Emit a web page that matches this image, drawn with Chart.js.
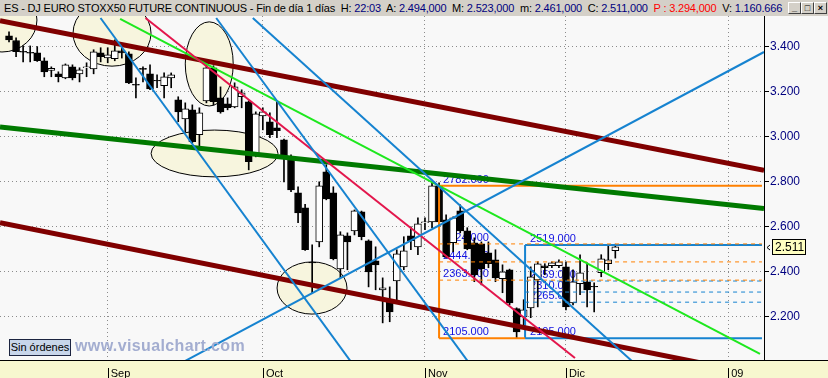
<!DOCTYPE html>
<html>
<head>
<meta charset="utf-8">
<script src="https://cdn.jsdelivr.net/npm/chart.js@4.4.1/dist/chart.umd.min.js"></script>
<style>
html, body { margin: 0; padding: 0; background: #f8f8f8; }
#wrap { position: relative; width: 828px; height: 378px; overflow: hidden; font-family: "Liberation Sans", Arial, sans-serif; }
#c { position: absolute; left: 0; top: 0; }
#hdr { position: absolute; left: 0; top: 0; width: 828px; height: 16px; background: #d4d0c8; font-size: 11px; line-height: 16px; white-space: nowrap; color: #000; }
#ht { position: absolute; left: 4px; top: 0; }
.v { color: #000080; }
.r { color: #ff0000; }
.wb { position: absolute; top: 2px; width: 11px; height: 10px; background: #d4d0c8; border: 1px solid; border-color: #fff #404040 #404040 #fff; font-size: 9px; line-height: 10px; text-align: center; font-weight: bold; }
#ord { position: absolute; left: 9px; top: 339px; width: 60px; height: 15px; border: 1px solid #1c2440; background: #c8d6ea; font-size: 11px; line-height: 15px; text-align: center; color: #000; }
#wm { position: absolute; left: 75px; top: 337px; font-weight: bold; font-size: 16px; color: #a3add0; white-space: nowrap; }
</style>
</head>
<body>
<div id="wrap">
  <canvas id="c" width="828" height="378"></canvas>
  <div id="hdr">
    <span id="ht">ES - DJ EURO STOXX50 FUTURE CONTINUOUS - Fin de día 1 días&nbsp; H: <span class="v">22:03</span>&nbsp; A: <span class="v">2.494,000</span>&nbsp; M: <span class="v">2.523,000</span>&nbsp; m: <span class="v">2.461,000</span>&nbsp; C: <span class="v">2.511,000</span>&nbsp; <span class="r">P : 3.294,000</span>&nbsp; V: <span class="v">1.160.666</span></span>
    <div class="wb" style="left:788px">_</div>
    <div class="wb" style="left:801px">□</div>
    <div class="wb" style="left:814px">×</div>
  </div>
  <div id="ord">Sin órdenes</div>
  <div id="wm">www.visualchart.com</div>
</div>
<script>
// daily candles, x = trading day counted from 1 Sep (0)
const firstDay = -14;
const openP = [3449,3428,3380,3375,3373,3338,3295,3280,3262,3311,3280,3307,3302,3373,
  3351,3347,3382,3369,3233,3304,3280,3251,3227,3262,
  3164,3080,3120,3009,3160,3307,3173,3147,3133,3178,
  3156,2920,3093,3067,3040,2987,2911,2751,2684,2442,
  2533,2844,2751,2413,2560,2582,2667,2538,2449,2320,
  2267,2360,2422,2560,2511,2618,2622,2782,2631,2529,
  2671,2582,2529,2524,2484,2453,2369,2409,2236,2200,
  2240,2364,2427,2427,2427,2422,2262,2347,2356,2335,
  2396,2436,2494];
const highP = [3467,3440,3404,3404,3401,3351,3311,3289,3324,3320,3307,3329,3387,3396,
  3396,3431,3395,3378,3262,3311,3320,3276,3284,3284,
  3178,3151,3142,3129,3320,3316,3222,3173,3240,3209,
  3160,3111,3129,3107,3156,2990,2920,2778,2700,2520,
  2800,2876,2778,2578,2573,2675,2670,2542,2511,2373,
  2333,2498,2556,2600,2640,2640,2796,2796,2653,2644,
  2698,2596,2551,2533,2533,2498,2431,2412,2240,2276,
  2422,2445,2436,2444,2453,2444,2409,2476,2440,2351,
  2476,2520,2523];
const lowP = [3422,3356,3333,3333,3335,3267,3267,3244,3258,3253,3244,3267,3280,3333,
  3329,3338,3350,3236,3173,3244,3209,3218,3173,3218,
  3067,3022,2973,2951,3151,3142,3105,3120,3129,3129,
  2853,2911,3031,2996,2996,2800,2756,2618,2495,2307,
  2511,2720,2453,2373,2409,2564,2542,2333,2320,2173,
  2178,2276,2409,2498,2476,2587,2596,2609,2462,2489,
  2573,2498,2356,2342,2418,2356,2307,2253,2105,2164,
  2196,2244,2387,2418,2418,2231,2253,2298,2244,2222,
  2378,2409,2461];
const closeP = [3431,3379,3376,3372,3339,3289,3304,3267,3320,3262,3298,3311,3378,3356,
  3364,3382,3373,3240,3229,3300,3213,3249,3267,3276,
  3111,3124,2978,3107,3307,3156,3111,3129,3222,3196,
  2889,3102,3111,3009,3027,2907,2764,2662,2498,2440,
  2782,2724,2458,2564,2533,2671,2556,2400,2431,2329,
  2222,2480,2493,2538,2613,2622,2782,2622,2467,2640,
  2582,2502,2387,2413,2436,2373,2400,2262,2133,2231,
  2378,2436,2418,2440,2444,2244,2356,2396,2320,2333,
  2458,2453,2511];
const lastClose = 2511;

const monthTicks = [0, 22, 45, 65, 88];
const monthLabels = ['Sep', 'Oct', 'Nov', 'Dic', '09'];
const priceTicks = [2200, 2400, 2600, 2800, 3000, 3200, 3400];

// trend lines: [day1, price1, day2, price2]
const maroonLines = [[-15.28, 3516, 93.09, 2851], [-15.28, 2618, 86.86, 1978]];
const greenLine = [-15.28, 3044, 93.09, 2681];
const limeLine = [1.76, 3524, 92.52, 2035];
const redLine = [5.36, 3528, 66.28, 2017];
const blueLines = [[-1.02, 3528, 34.6, 1996], [15.39, 3528, 51.25, 1995],
  [20.58, 3528, 74.65, 1995], [10.4, 1994, 93.09, 3377]];

// retracement boxes
const orangeLevels = [2782, 2524, 2444, 2363, 2105];
const blueLevels = [2519, 2359, 2310, 2265, 2105];
const orangeFrom = 47.0, blueFrom = 59.2, boxTo = 92.8;

// ellipses: centre day, centre price, half width (days), half height (points)
const ellDay = [-15.0, 0.61, 14.4, 15.15, 28.98];
const ellPrice = [3519, 3461, 3324, 2926, 2328];
const ellRx = [4.96, 5.53, 3.4, 9.0, 4.96];
const ellRy = [142, 147, 187, 104, 116];

// fit header and watermark text widths
const ht = document.getElementById('ht');
ht.style.letterSpacing = ((778 - ht.getBoundingClientRect().width) / ht.textContent.length) + 'px';
const wm = document.getElementById('wm');
wm.style.letterSpacing = ((170 - wm.getBoundingClientRect().width) / wm.textContent.length) + 'px';

Chart.defaults.font.family = '"Liberation Sans", Arial, sans-serif';

function seg(x1, y1, x2, y2, color, width, dash) {
  return {
    type: 'line', data: [{x: x1, y: y1}, {x: x2, y: y2}],
    borderColor: color, borderWidth: width, borderDash: dash || [],
    pointRadius: 0, tension: 0, order: 0, borderCapStyle: 'butt'
  };
}

const datasets = [];
blueLines.forEach(l => datasets.push(seg(l[0], l[1], l[2], l[3], '#1683d0', 2)));
datasets.push(seg(redLine[0], redLine[1], redLine[2], redLine[3], '#e3164c', 2));
datasets.push(seg(limeLine[0], limeLine[1], limeLine[2], limeLine[3], '#1ee81e', 2));
datasets.push(seg(greenLine[0], greenLine[1], greenLine[2], greenLine[3], '#007a00', 5));
maroonLines.forEach(l => datasets.push(seg(l[0], l[1], l[2], l[3], '#800000', 5)));

// orange box
const oTop = orangeLevels[0], oBot = orangeLevels[orangeLevels.length - 1];
datasets.push(seg(orangeFrom, oTop, boxTo, oTop, '#ff8000', 2));
datasets.push(seg(orangeFrom, oTop, orangeFrom, oBot, '#ff8000', 2));
datasets.push(seg(orangeFrom, oBot, blueFrom, oBot, '#ff8000', 2));
orangeLevels.slice(1, -1).forEach(v => datasets.push(seg(orangeFrom, v, boxTo, v, '#ff8000', 1, [4, 4])));
// blue box
const bTop = blueLevels[0], bBot = blueLevels[blueLevels.length - 1];
datasets.push(seg(blueFrom, bTop, boxTo, bTop, '#1683d0', 2));
datasets.push(seg(blueFrom, bTop, blueFrom, bBot, '#1683d0', 2));
datasets.push(seg(blueFrom, bBot, boxTo, bBot, '#1683d0', 2));
blueLevels.slice(1, -1).forEach(v => datasets.push(seg(blueFrom, v, boxTo, v, '#1683d0', 1, [4, 4])));

// candles
datasets.push({
  type: 'bar', grouped: false, order: 1, barThickness: 7,
  data: openP.map((o, k) => ({x: firstDay + k, y: [o, closeP[k]]})),
  backgroundColor: openP.map((o, k) => closeP[k] >= o ? '#ffffff' : '#000000'),
  borderColor: '#000', borderWidth: 1, borderSkipped: false
});
datasets.push({
  type: 'bar', grouped: false, order: 2, barThickness: 1,
  data: lowP.map((l, k) => ({x: firstDay + k, y: [l, highP[k]]})),
  backgroundColor: '#000', borderWidth: 0
});

const deco = {
  id: 'deco',
  beforeDraw(c) {
    const g = c.ctx;
    g.save();
    g.fillStyle = '#f8f8f8';
    g.fillRect(0, 0, 828, 378);
    g.fillStyle = '#f7f7cf';
    g.fillRect(0, 360, 828, 18);
    g.restore();
  },
  beforeDatasetsDraw(c) {
    const g = c.ctx, xs = c.scales.x, ys = c.scales.y, a = c.chartArea;
    g.save();
    g.beginPath();
    g.rect(a.left, a.top, a.right - a.left, a.bottom - a.top);
    g.clip();
    // ellipses
    ellDay.forEach((d, k) => {
      const cx = xs.getPixelForValue(d), cy = ys.getPixelForValue(ellPrice[k]);
      const rx = Math.abs(xs.getPixelForValue(d + ellRx[k]) - cx);
      const ry = Math.abs(ys.getPixelForValue(ellPrice[k] + ellRy[k]) - cy);
      g.beginPath();
      g.ellipse(cx, cy, rx, ry, 0, 0, Math.PI * 2);
      g.fillStyle = '#f7f5de';
      g.fill();
      g.strokeStyle = '#000';
      g.lineWidth = 1;
      g.stroke();
    });
    // retracement labels
    g.font = '11px "Liberation Sans", Arial, sans-serif';
    g.fillStyle = '#1010e0';
    g.textBaseline = 'alphabetic';
    orangeLevels.forEach(v => g.fillText(v + '.000', xs.getPixelForValue(orangeFrom) + 4, ys.getPixelForValue(v) - 3));
    blueLevels.forEach(v => g.fillText(v + '.000', xs.getPixelForValue(blueFrom) + 5, ys.getPixelForValue(v) - 3));
    g.restore();
  },
  afterDraw(c) {
    const g = c.ctx, xs = c.scales.x, ys = c.scales.y, a = c.chartArea;
    g.save();
    g.strokeStyle = '#000';
    g.lineWidth = 1;
    g.beginPath();
    g.moveTo(0, a.bottom + 0.5); g.lineTo(828, a.bottom + 0.5);
    g.moveTo(a.right + 0.5, a.top); g.lineTo(a.right + 0.5, a.bottom);
    monthTicks.forEach(t => {
      const px = Math.round(xs.getPixelForValue(t)) + 0.5;
      g.moveTo(px, a.bottom + 8); g.lineTo(px, 378);
    });
    g.stroke();
    // last price marker
    const py = Math.round(ys.getPixelForValue(lastClose));
    g.fillStyle = '#ffffc0';
    g.fillRect(772.5, py - 7.5, 33, 15);
    g.strokeRect(772.5, py - 7.5, 33, 15);
    g.beginPath();
    g.moveTo(770, py - 2); g.lineTo(767, py + 0.5); g.lineTo(770, py + 3);
    g.stroke();
    g.fillStyle = '#000';
    g.font = '12px "Liberation Sans", Arial, sans-serif';
    g.textBaseline = 'middle';
    g.fillText((lastClose / 1000).toFixed(3), 775, py + 1);
    g.restore();
  }
};

new Chart(document.getElementById('c'), {
  type: 'line',
  data: { datasets: datasets },
  plugins: [deco],
  options: {
    responsive: false,
    animation: false,
    devicePixelRatio: 1,
    layout: { padding: { top: 16, left: 0, right: 0, bottom: 0 } },
    plugins: { legend: { display: false }, tooltip: { enabled: false } },
    scales: {
      x: {
        type: 'linear', min: -15.28, max: 93.09, offset: false,
        afterBuildTicks: s => { s.ticks = monthTicks.map(v => ({value: v})); },
        afterFit: s => { s.height = 18; },
        ticks: {
          autoSkip: false, maxRotation: 0, align: 'start', padding: 7,
          color: '#000', font: { size: 11 },
          callback: v => ' ' + monthLabels[monthTicks.indexOf(v)]
        },
        grid: { color: '#8c8c8c', drawTicks: false, offset: false },
        border: { display: false, dash: [1, 3] }
      },
      y: {
        type: 'linear', position: 'right', min: 2008, max: 3537, beginAtZero: false,
        afterBuildTicks: s => { s.ticks = priceTicks.map(v => ({value: v})); },
        afterFit: s => { s.width = 64; },
        ticks: {
          padding: 1, color: '#000080', font: { size: 12 },
          callback: v => (v / 1000).toFixed(3)
        },
        grid: { color: '#8c8c8c', tickLength: 5, tickColor: '#000' },
        border: { display: false, dash: [1, 3] }
      }
    }
  }
});
</script>
</body>
</html>
